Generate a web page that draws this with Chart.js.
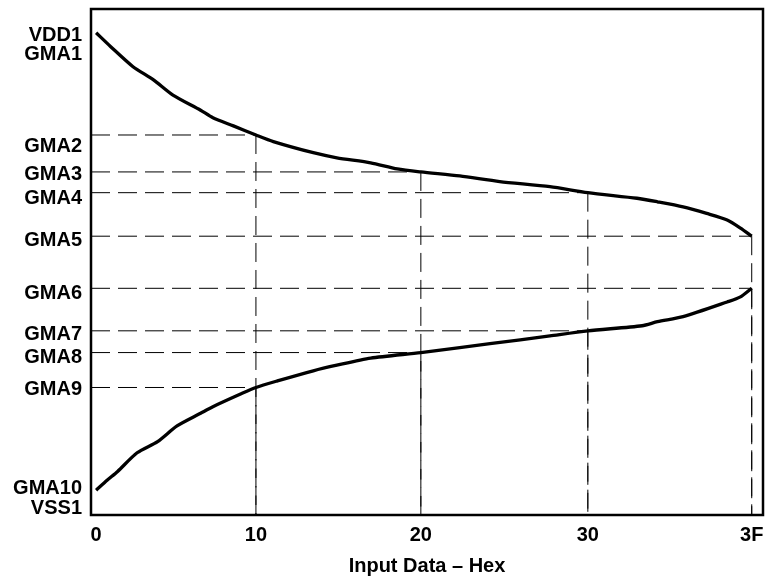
<!DOCTYPE html>
<html>
<head>
<meta charset="utf-8">
<script src="https://cdn.jsdelivr.net/npm/chart.js@4/dist/chart.umd.min.js"></script>
<style>
  html, body { margin: 0; padding: 0; background: #fff; }
  #wrap { width: 765px; height: 580px; }
</style>
</head>
<body>
<div id="wrap"><canvas id="c" width="765" height="580"></canvas></div>
<script>
// X axis units: positions, "3F" at 64.
const xTickValues = [0, 15.6, 31.7, 48, 64];
const xTickLabels = ['0', '10', '20', '30', '3F'];

// Upper (positive polarity) curve
const upperX = [0, 1.4, 3.6, 5.6, 7.5, 10.2, 11.4, 13.4, 15.6, 17.3, 21.2, 23.5, 26.8, 29.4, 31.7, 35.5, 39.4, 44.3, 48, 52.8, 54.8, 57.3, 59.6, 61.6, 62.9, 64];
const upperY = [95.3, 92.6, 88.6, 86.0, 83.0, 80.0, 78.5, 76.9, 75.1, 73.8, 71.6, 70.6, 69.6, 68.4, 67.8, 67.0, 65.9, 64.9, 63.7, 62.6, 61.9, 60.9, 59.6, 58.3, 56.7, 55.1];

// Lower (negative polarity) curve
const lowerX = [0, 1.1, 2.1, 4.0, 6.0, 7.9, 10.2, 11.4, 14.1, 15.6, 17.7, 21.2, 23.5, 26.8, 31.7, 35.5, 41.4, 44.3, 48, 53.3, 54.8, 57.3, 61.6, 62.9, 64];
const lowerY = [4.9, 6.9, 8.6, 12.3, 14.5, 17.6, 20.1, 21.4, 23.9, 25.2, 26.5, 28.5, 29.6, 31.0, 32.1, 33.1, 34.6, 35.4, 36.4, 37.4, 38.2, 39.2, 42.1, 43.1, 44.8];

// Gamma reference points (level, and input code position where it meets the curve)
const gmaLevels = [75.1, 67.8, 63.7, 55.1, 44.8, 36.4, 32.1, 25.2];
const gmaCodes  = [15.6, 31.7, 48, 64, 64, 48, 31.7, 15.6];

// Y tick labels and where they sit
const yTickValues = [92.9, 72.8, 67.2, 62.6, 54.3, 43.7, 35.7, 31.1, 24.8, 3.3];
const yTickLabels = [['VDD1', 'GMA1'], 'GMA2', 'GMA3', 'GMA4', 'GMA5', 'GMA6', 'GMA7', 'GMA8', 'GMA9', ['GMA10', 'VSS1']];

const X_MIN = -0.5, X_MAX = 65.1, Y_MIN = 0, Y_MAX = 100;

const toPts = (xs, ys) => xs.map((x, i) => ({ x: x, y: ys[i] }));

const datasets = [
  { data: toPts(upperX, upperY), borderColor: '#000', borderWidth: 3.3, pointRadius: 0, tension: 0.25, order: 0 },
  { data: toPts(lowerX, lowerY), borderColor: '#000', borderWidth: 3.3, pointRadius: 0, tension: 0.25, order: 0 }
];
gmaLevels.forEach((lv, i) => {
  const code = gmaCodes[i];
  datasets.push({ data: [{ x: X_MIN, y: lv }, { x: code, y: lv }], borderColor: '#000', borderWidth: 1, borderDash: [19, 8], pointRadius: 0, order: 1 });
  datasets.push({ data: [{ x: code, y: lv }, { x: code, y: Y_MIN }], borderColor: '#000', borderWidth: 1, borderDash: [19, 8], pointRadius: 0, order: 1 });
});

const frame = {
  id: 'frame',
  afterDatasetsDraw(chart) {
    const a = chart.chartArea, ctx = chart.ctx;
    ctx.save();
    ctx.strokeStyle = '#000';
    ctx.lineWidth = 2.5;
    ctx.strokeRect(a.left, a.top, a.right - a.left, a.bottom - a.top);
    ctx.restore();
  }
};

const FONT = { family: "'Liberation Sans', Arial, Helvetica, sans-serif", size: 20, weight: 'bold' };

new Chart(document.getElementById('c'), {
  type: 'line',
  data: { datasets: datasets },
  options: {
    responsive: false,
    animation: false,
    devicePixelRatio: 1,
    layout: { padding: { top: 9, right: 2, left: 0, bottom: 0 } },
    plugins: { legend: { display: false }, tooltip: { enabled: false } },
    scales: {
      x: {
        type: 'linear', min: X_MIN, max: X_MAX,
        grid: { display: false, drawTicks: false },
        border: { display: false },
        afterBuildTicks: s => { s.ticks = xTickValues.map(v => ({ value: v })); },
        afterFit: s => { s.height = 65; s.paddingLeft = 0; s.paddingRight = 0; },
        ticks: { color: '#000', font: FONT, padding: 8, maxRotation: 0, autoSkip: false,
                 callback: (v, i) => xTickLabels[i] },
        title: { display: true, text: 'Input Data – Hex', color: '#000', font: FONT, padding: { top: 0, bottom: 2 } }
      },
      y: {
        type: 'linear', min: Y_MIN, max: Y_MAX,
        grid: { display: false, drawTicks: false },
        border: { display: false },
        afterBuildTicks: s => { s.ticks = yTickValues.map(v => ({ value: v })); },
        afterFit: s => { s.width = 91; s.paddingTop = 0; s.paddingBottom = 0; },
        ticks: { color: '#000', font: { ...FONT, lineHeight: 0.97 }, padding: 9, autoSkip: false,
                 callback: (v, i) => yTickLabels[i] }
      }
    }
  },
  plugins: [frame]
});
</script>
</body>
</html>
